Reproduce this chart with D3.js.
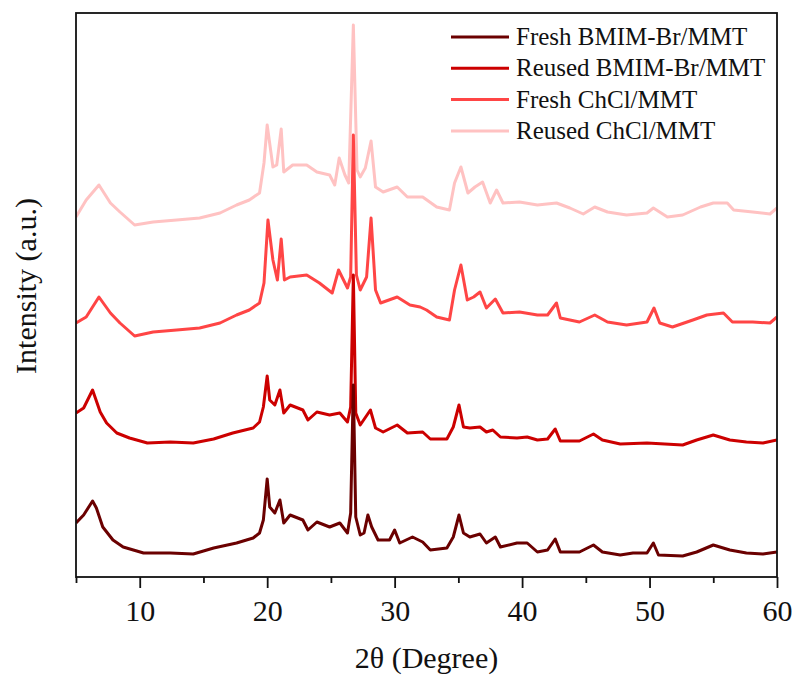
<!DOCTYPE html>
<html>
<head>
<meta charset="utf-8">
<script src="https://cdn.jsdelivr.net/npm/d3@7"></script>
<style>
  body { margin: 0; background: #fff; }
  text { font-family: "Liberation Serif", "Times New Roman", serif; fill: #111; }
</style>
</head>
<body>
<svg id="chart" width="797" height="679"></svg>
<script>
// 2theta (deg) and stacked intensity (a.u.)
var freshBmimTheta = [5.0, 5.6, 6.3, 6.6, 7.1, 7.9, 8.7, 10.3, 12.4, 14.2, 15.8, 17.6, 18.9, 19.4, 19.7, 20.0, 20.2, 20.6, 21.0, 21.3, 21.8, 22.8, 23.2, 23.9, 24.9, 25.7, 26.3, 26.55, 26.76, 26.95, 27.3, 27.6, 27.9, 28.2, 28.7, 29.6, 30.0, 30.4, 31.4, 32.2, 32.8, 34.1, 34.6, 35.05, 35.4, 35.9, 36.7, 37.2, 37.9, 38.3, 39.6, 40.4, 41.2, 42.0, 42.6, 43.0, 44.5, 45.6, 46.3, 47.7, 48.7, 49.8, 50.3, 50.7, 52.6, 53.7, 55.0, 56.3, 57.6, 58.9, 60.0];
var freshBmim      = [54, 62, 76, 69, 50, 37, 30, 24, 24, 23, 29, 34, 39, 44, 57, 98, 70, 64, 77, 54, 62, 57, 47, 55, 50, 54, 44, 64, 192, 60, 42, 44, 62, 50, 37, 37, 47, 34, 40, 35, 27, 29, 40, 62, 44, 40, 43, 34, 40, 30, 34, 34, 25, 27, 38, 25, 25, 32, 25, 22, 24, 24, 34, 22, 21, 25, 32, 27, 24, 23, 25];

var reusedBmimTheta = [5.0, 5.6, 6.3, 6.9, 7.4, 8.2, 9.2, 10.6, 12.4, 14.2, 15.8, 17.3, 18.9, 19.4, 19.7, 20.0, 20.2, 20.6, 21.0, 21.3, 21.8, 22.8, 23.2, 23.9, 24.9, 25.7, 26.3, 26.55, 26.76, 26.95, 27.3, 28.1, 28.5, 29.1, 30.2, 31.0, 32.2, 32.8, 34.1, 34.6, 35.05, 35.4, 35.9, 36.7, 37.2, 37.7, 38.3, 39.6, 40.4, 41.2, 42.0, 42.6, 43.0, 44.5, 45.6, 46.3, 47.7, 49.8, 52.6, 53.7, 55.0, 56.3, 57.6, 58.9, 60.0];
var reusedBmim      = [164, 169, 187, 165, 154, 144, 139, 134, 135, 134, 138, 144, 149, 155, 170, 201, 177, 172, 187, 164, 172, 167, 157, 165, 162, 164, 155, 170, 302, 164, 152, 167, 149, 145, 152, 144, 145, 138, 138, 150, 172, 150, 149, 150, 145, 147, 140, 139, 140, 137, 138, 148, 136, 136, 143, 137, 133, 134, 132, 137, 142, 137, 135, 134, 137];

var freshChclTheta = [5.0, 5.8, 6.8, 7.7, 8.45, 9.6, 11.05, 12.9, 14.7, 16.3, 17.6, 18.6, 19.4, 19.75, 20.06, 20.45, 20.8, 21.1, 21.35, 21.8, 23.1, 24.1, 25.1, 25.6, 26.3, 26.55, 26.76, 27.0, 27.3, 27.8, 28.15, 28.5, 28.9, 30.2, 31.2, 32.0, 32.5, 33.3, 34.3, 34.7, 35.2, 35.7, 36.2, 36.7, 37.2, 37.9, 38.5, 39.8, 41.2, 42.0, 42.7, 43.0, 44.5, 45.7, 46.7, 48.2, 49.8, 50.35, 50.8, 51.8, 53.4, 54.5, 55.8, 56.5, 58.1, 59.45, 60.0];
var freshChcl      = [254, 260, 280, 264, 254, 241, 245, 247, 249, 254, 262, 267, 274, 294, 357, 317, 297, 338, 297, 300, 302, 294, 284, 307, 289, 300, 442, 302, 287, 300, 359, 287, 274, 280, 272, 270, 267, 260, 257, 287, 312, 277, 280, 285, 269, 278, 264, 265, 262, 262, 274, 259, 255, 262, 255, 252, 255, 269, 254, 250, 257, 262, 264, 255, 255, 254, 260];

var reusedChclTheta = [5.0, 5.8, 6.8, 7.7, 8.45, 9.6, 11.05, 12.9, 14.7, 16.3, 17.6, 18.6, 19.4, 19.75, 20.0, 20.45, 20.75, 21.1, 21.3, 22.0, 23.1, 23.9, 24.9, 25.3, 25.65, 26.1, 26.4, 26.76, 27.05, 27.3, 27.7, 28.15, 28.5, 29.1, 30.2, 31.0, 32.2, 33.3, 34.3, 34.7, 35.2, 35.75, 36.3, 36.9, 37.5, 38.0, 38.5, 39.8, 41.2, 42.7, 43.75, 44.8, 45.7, 46.7, 48.2, 49.8, 50.3, 51.4, 52.6, 54.0, 55.0, 56.1, 56.6, 58.1, 59.45, 60.0];
var reusedChcl      = [360, 377, 392, 374, 365, 352, 355, 357, 359, 364, 372, 377, 384, 414, 452, 410, 412, 448, 405, 412, 412, 405, 402, 392, 419, 402, 394, 552, 407, 400, 409, 436, 390, 385, 390, 380, 380, 370, 367, 394, 410, 384, 390, 395, 374, 387, 374, 375, 372, 374, 369, 363, 370, 365, 362, 364, 369, 360, 362, 370, 374, 374, 367, 365, 363, 369];

var seriesNames  = ["Fresh BMIM-Br/MMT", "Reused BMIM-Br/MMT", "Fresh ChCl/MMT", "Reused ChCl/MMT"];
var seriesColors = ["#6b0000", "#cc0000", "#ff4545", "#ffc2c2"];
var xTicks = [10, 20, 30, 40, 50, 60];
var xMinorTicks = [5, 15, 25, 35, 45, 55];

var svg = d3.select("#chart");
var plotLeft = 76, plotRight = 777, plotTop = 13, plotBottom = 577;

var x = d3.scaleLinear()
  .domain([5, 60])
  .range([plotLeft, plotRight]);

var y = d3.scaleLinear()
  .domain([0, 564])
  .range([plotBottom, plotTop]);

var series = [
  {name: seriesNames[0], color: seriesColors[0], theta: freshBmimTheta, vals: freshBmim},
  {name: seriesNames[1], color: seriesColors[1], theta: reusedBmimTheta, vals: reusedBmim},
  {name: seriesNames[2], color: seriesColors[2], theta: freshChclTheta, vals: freshChcl},
  {name: seriesNames[3], color: seriesColors[3], theta: reusedChclTheta, vals: reusedChcl}
];

var line = d3.line()
  .x(function(d) { return x(d[0]); })
  .y(function(d) { return y(d[1]); });

svg.append("clipPath").attr("id", "plot")
  .append("rect")
    .attr("x", plotLeft).attr("y", plotTop)
    .attr("width", plotRight - plotLeft).attr("height", plotBottom - plotTop);

// lighter traces go under the darker ones
series.slice().reverse().forEach(function(s) {
  var pts = s.theta.map(function(t, i) { return [t, s.vals[i]]; });
  svg.append("path")
    .attr("clip-path", "url(#plot)")
    .attr("d", line(pts))
    .attr("fill", "none")
    .attr("stroke", s.color)
    .attr("stroke-width", 3)
    .attr("stroke-linejoin", "round");
});

// frame
svg.append("rect")
  .attr("x", plotLeft).attr("y", plotTop)
  .attr("width", plotRight - plotLeft).attr("height", plotBottom - plotTop)
  .attr("fill", "none")
  .attr("stroke", "#111")
  .attr("stroke-width", 1.8);

var xAxis = svg.append("g")
  .attr("transform", "translate(0," + plotBottom + ")")
  .call(d3.axisBottom(x).tickValues(xTicks).tickSize(11).tickPadding(12).tickFormat(d3.format("d")));

svg.append("g")
  .attr("transform", "translate(0," + plotBottom + ")")
  .call(d3.axisBottom(x).tickValues(xMinorTicks).tickSize(6).tickFormat(""))
  .select(".domain").remove();

svg.selectAll(".tick line").attr("stroke", "#111").attr("stroke-width", 1.8);
xAxis.select(".domain").remove();
xAxis.selectAll(".tick text")
  .attr("font-size", 30)
  .attr("font-family", "Liberation Serif, Times New Roman, serif")
  .attr("fill", "#111");

svg.append("text")
  .attr("x", (plotLeft + plotRight) / 2)
  .attr("y", 668)
  .attr("text-anchor", "middle")
  .attr("font-size", 30)
  .text("2θ (Degree)");

svg.append("text")
  .attr("transform", "translate(36,286) rotate(-90)")
  .attr("text-anchor", "middle")
  .attr("font-size", 30)
  .text("Intensity (a.u.)");

// legend
var legend = svg.append("g");
series.forEach(function(s, i) {
  var ly = 37 + i * 31.3;
  legend.append("line")
    .attr("x1", 451).attr("x2", 509)
    .attr("y1", ly).attr("y2", ly)
    .attr("stroke", s.color)
    .attr("stroke-width", 3);
  legend.append("text")
    .attr("x", 516)
    .attr("y", ly + 8)
    .attr("font-size", 25)
    .text(s.name);
});
</script>
</body>
</html>
